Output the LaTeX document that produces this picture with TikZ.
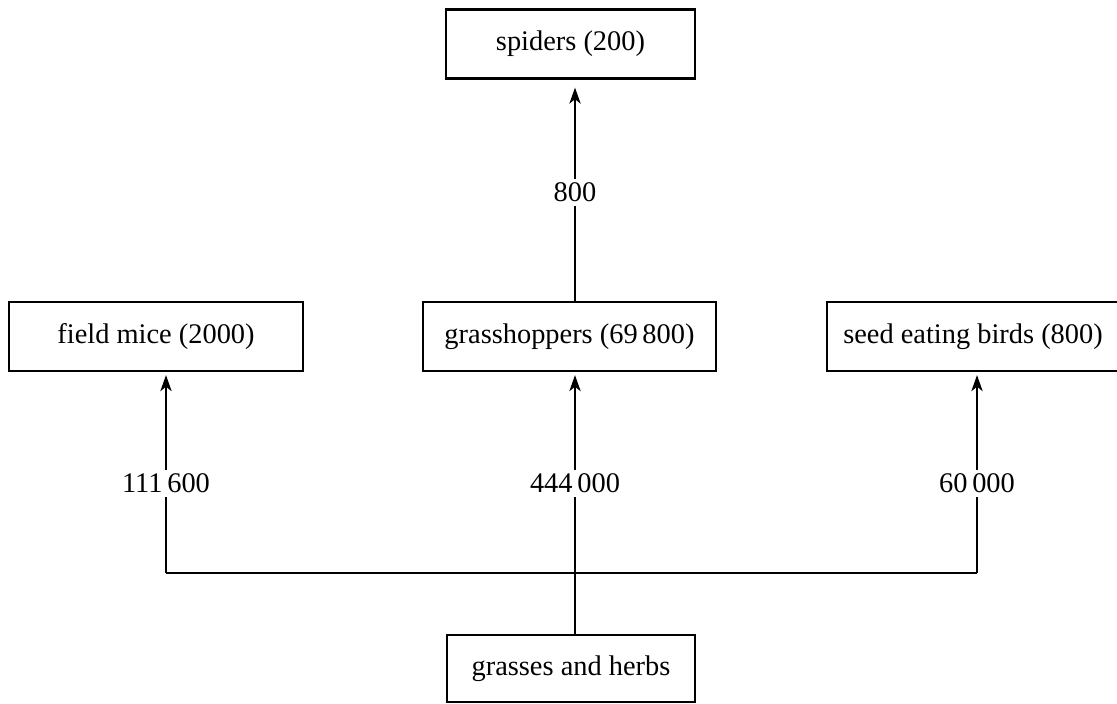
\documentclass[tikz,border=0pt]{standalone}
\usepackage{fontspec}
\setmainfont{Liberation Serif}
\usetikzlibrary{arrows.meta}
\begin{document}
\begin{tikzpicture}[x=0.5pt,y=-0.5pt,
  txt/.style={font=\fontsize{14.2}{16}\selectfont},
  box/.style={txt,draw,line width=1.1pt,inner sep=0pt,minimum height=34.5pt},
  conn/.style={line width=1.1pt,line join=miter},
  arr/.style={conn,-{Stealth[length=8pt,width=5.6pt,inset=2.2pt]}},
  lbl/.style={txt,fill=white,inner sep=2pt}]
\useasboundingbox (0,0) rectangle (1117,704);
\node[box,minimum width=124.5pt] (spiders) at (570.5,44) {spiders (200)};
\node[box,minimum width=147pt] (mice) at (156,336.5) {field mice (2000)};
\node[box,minimum width=146.5pt] (hoppers) at (569.5,336.5) {grasshoppers (69\,800)};
\node[box,minimum width=146pt] (birds) at (973,336.5) {seed eating birds (800)};
\node[box,minimum width=124pt,minimum height=33.5pt] (grass) at (571,668.5) {grasses and herbs};
\coordinate (jm) at (166,573);
\coordinate (jc) at (575,573);
\coordinate (jb) at (977,573);
\draw[conn] (grass.north -| jc) -- (jc);
\draw[conn] (jm) -- (jb);
\draw[arr,shorten >=1.5pt] (jm) -- node[lbl,pos=0.445]{111\,600} (mice.south -| jm);
\draw[arr,shorten >=1.5pt] (jc) -- node[lbl,pos=0.445]{444\,000} (hoppers.south -| jc);
\draw[arr,shorten >=1.5pt] (jb) -- node[lbl,pos=0.445]{60\,000} (birds.south -| jb);
\draw[arr,shorten >=4pt] (hoppers.north -| jc) -- node[lbl,pos=0.49]{800} (spiders.south -| jc);
\end{tikzpicture}
\end{document}
